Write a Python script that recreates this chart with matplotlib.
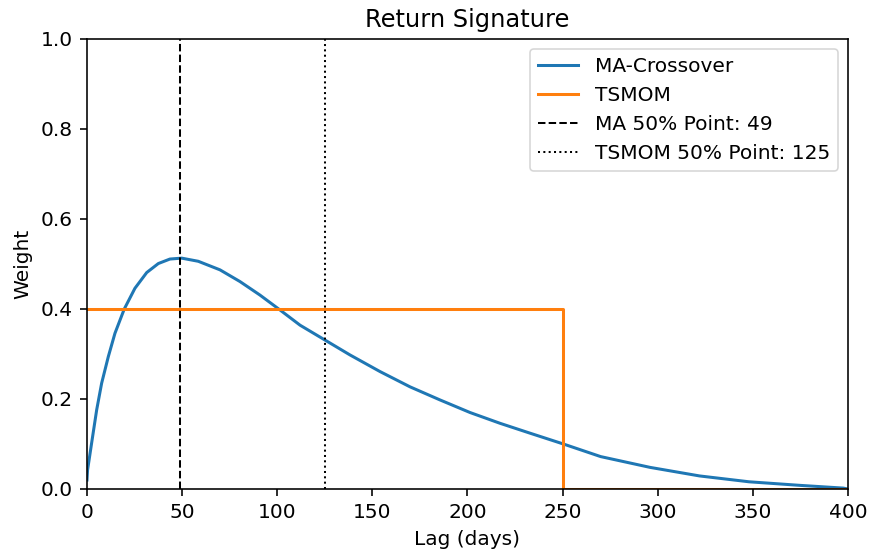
import matplotlib
matplotlib.use("Agg")
import matplotlib.pyplot as plt

# MA-Crossover weights
ma_lag = [0, 0.3, 2.4, 5.1, 7.7, 11.2, 14.7, 19.6, 25.2, 31.4, 37.5, 43.6, 49.8,
          58.5, 69.9, 80.4, 90.9, 101.4, 112, 125.1, 138.2, 154, 169.8, 185.5,
          201.3, 217.1, 232.9, 250.4, 270, 296, 322, 348, 375, 397.5, 400]
ma_weight = [0.02, 0.042, 0.101, 0.176, 0.235, 0.294, 0.346, 0.40, 0.446, 0.481,
             0.501, 0.511, 0.513, 0.506, 0.487, 0.461, 0.431, 0.398, 0.364, 0.331,
             0.298, 0.261, 0.227, 0.198, 0.17, 0.146, 0.124, 0.10, 0.072, 0.048,
             0.029, 0.016, 0.008, 0.002, 0.0]

# TSMOM box weights
ts_lag = [0, 250, 250, 400]
ts_weight = [0.4, 0.4, 0.0, 0.0]

ma_half = 49
ts_half = 125

s = 1.45  # picture is a scaled-up default figure

fig = plt.figure(figsize=(8.69, 5.57), dpi=100)
ax = fig.add_axes([0.1001, 0.1221, 0.8757, 0.8079])

ax.plot(ma_lag, ma_weight, color='#1f77b4', lw=1.5 * s, label='MA-Crossover')
ax.plot(ts_lag, ts_weight, color='#ff7f0e', lw=1.5 * s, label='TSMOM')
ax.axvline(ma_half, color='black', ls='--', lw=1.0 * s, label=f'MA 50% Point: {ma_half}')
ax.axvline(ts_half, color='black', ls=':', lw=1.0 * s, label=f'TSMOM 50% Point: {ts_half}')

ax.set_xlim(0, 400)
ax.set_ylim(0, 1)
ax.set_title('Return Signature', fontsize=12 * s, pad=6 * s)
ax.set_xlabel('Lag (days)', fontsize=10 * s, labelpad=4 * s)
ax.set_ylabel('Weight', fontsize=10 * s, labelpad=4 * s)
ax.tick_params(labelsize=10 * s, width=0.8 * s, length=3.5 * s, pad=3.5 * s)
for sp in ax.spines.values():
    sp.set_linewidth(0.8 * s)
leg = ax.legend(loc='upper right', fontsize=10 * s, borderaxespad=0.5,
                handlelength=2.0, framealpha=0.8)
leg.get_frame().set_linewidth(0.8 * s)

fig.savefig('out.png', dpi=100)
